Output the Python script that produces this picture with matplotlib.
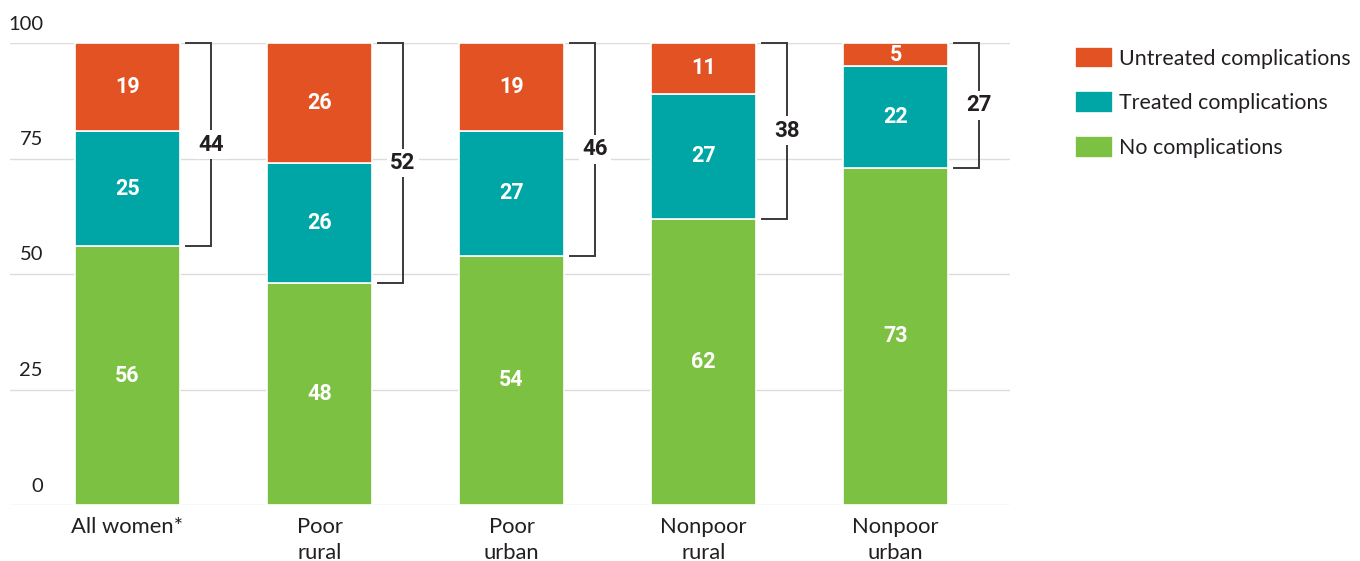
import matplotlib
matplotlib.use("Agg")
import matplotlib.pyplot as plt
import numpy as np
from matplotlib.transforms import offset_copy, blended_transform_factory

plt.rcParams['font.family'] = ['Lato', 'DejaVu Sans']

categories = ["All women*", "Poor\nrural", "Poor\nurban", "Nonpoor\nrural", "Nonpoor\nurban"]
no_compl = [56, 48, 54, 62, 73]
treated = [25, 26, 27, 27, 22]
untreated = [19, 26, 19, 11, 5]
bracket_totals = [44, 52, 46, 38, 27]
yticks = [0, 25, 50, 75, 100]

c_green = "#7DC143"
c_teal = "#00A6A6"
c_orange = "#E35222"
c_text = "#231F20"
bold_family = ['Roboto', 'DejaVu Sans']

fig = plt.figure(figsize=(13.6, 5.61), dpi=100)
ax = fig.add_axes([10/1360, 56/561, 1000/1360, 462/561])

x = np.arange(len(categories))
w = 0.547
b1 = ax.bar(x, no_compl, w, color=c_green, edgecolor="white", linewidth=1.2, zorder=3,
            label="No complications")
b2 = ax.bar(x, treated, w, bottom=no_compl, color=c_teal, edgecolor="white", linewidth=1.2,
            zorder=3, label="Treated complications")
bottom3 = np.array(no_compl) + np.array(treated)
b3 = ax.bar(x, untreated, w, bottom=bottom3, color=c_orange, edgecolor="white", linewidth=1.2,
            zorder=3, label="Untreated complications")

ax.set_xlim(-0.612, 4.596)
ax.set_ylim(0, 100)

for s in ax.spines.values():
    s.set_visible(False)
ax.set_xticks([])
ax.set_yticks([])
for v in yticks:
    ax.axhline(v, color="#DCDCDC", lw=1.0, zorder=1)

# y tick labels above gridlines
trans = blended_transform_factory(ax.transAxes, ax.transData)
for v in yticks:
    t = offset_copy(trans, fig=fig, x=33, y=19, units='dots')
    ax.text(0, v, str(v), transform=t, ha='right', va='center', fontsize=14.5, color=c_text)

# values in bars
for i in range(len(x)):
    segs = [(no_compl[i], 0), (treated[i], no_compl[i]), (untreated[i], bottom3[i])]
    for val, base in segs:
        ax.text(x[i], base + val / 2, str(val), ha='center', va='center', color='white',
                fontsize=15.5, fontweight='bold', family=bold_family, zorder=5)

# brackets
for i in range(len(x)):
    top = 100
    bot = no_compl[i]
    x0 = x[i] + 0.305
    x1 = x[i] + 0.435
    ax.plot([x0, x1, x1, x0], [top, top, bot, bot], color="#3A3A3A", lw=1.4, zorder=4,
            solid_joinstyle='miter', clip_on=False)
    ax.text(x1, (top + bot) / 2, str(bracket_totals[i]), ha='center', va='center',
            fontsize=16, fontweight='bold', family=bold_family, color=c_text, zorder=6,
            bbox=dict(boxstyle='square,pad=0.15', fc='white', ec='none'))

# category labels
for i, c in enumerate(categories):
    ax.text(x[i], -2.6, c, ha='center', va='top', fontsize=15.8, color=c_text,
            linespacing=1.38)

leg = fig.legend(handles=[b3, b2, b1], loc='upper left', bbox_to_anchor=(1066/1360, 1 - 38/561),
                 frameon=False, fontsize=15.4, handlelength=1.78, handleheight=1.2,
                 handletextpad=0.3, labelspacing=1.05, borderaxespad=0, labelcolor=c_text)

fig.savefig("out.png", dpi=100)
